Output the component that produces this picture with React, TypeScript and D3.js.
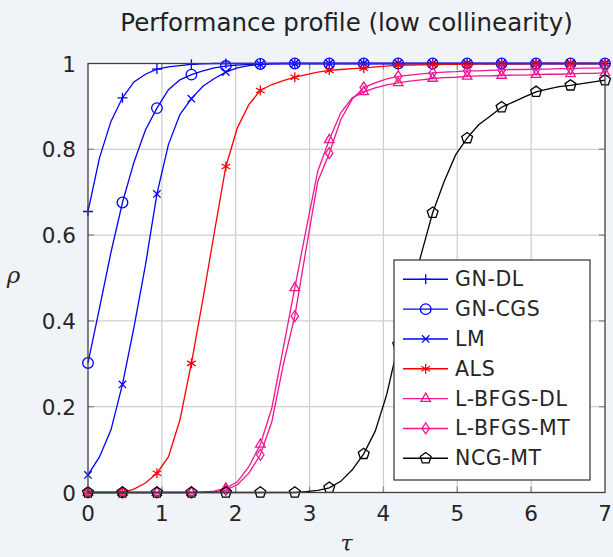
import React from "react";
import * as d3 from "d3";

// Sampling grid (46 samples across tau in [0, 7]); markers every 3rd sample
const TAU_MAX = 7;
const N_SAMPLES = 46;
const tau = d3.range(N_SAMPLES).map((i) => (i * TAU_MAX) / (N_SAMPLES - 1));

const xTicks = [0, 1, 2, 3, 4, 5, 6, 7];
const yTicks = [0, 0.2, 0.4, 0.6, 0.8, 1];
const yTickLabels = ["0", "0.2", "0.4", "0.6", "0.8", "1"];

const seriesNames = ["GN-DL", "GN-CGS", "LM", "ALS", "L-BFGS-DL", "L-BFGS-MT", "NCG-MT"];

const gnDL = [0.655, 0.78, 0.865, 0.92, 0.957, 0.975, 0.987, 0.992, 0.995, 0.998, 0.999,
  1, 1, 1, 1, 1, 1, 1, 1, 1, 1, 1, 1, 1, 1, 1, 1, 1, 1, 1, 1, 1, 1, 1, 1, 1, 1, 1, 1, 1, 1, 1, 1, 1, 1, 1];
const gnCGS = [0.302, 0.43, 0.56, 0.676, 0.77, 0.845, 0.896, 0.939, 0.962, 0.974, 0.983, 0.99, 0.994, 0.996, 0.998, 0.999,
  1, 1, 1, 1, 1, 1, 1, 1, 1, 1, 1, 1, 1, 1, 1, 1, 1, 1, 1, 1, 1, 1, 1, 1, 1, 1, 1, 1, 1, 1];
const lm = [0.041, 0.083, 0.146, 0.252, 0.385, 0.53, 0.696, 0.811, 0.881, 0.918, 0.947, 0.965, 0.98, 0.99, 0.995, 0.998, 0.999,
  1, 1, 1, 1, 1, 1, 1, 1, 1, 1, 1, 1, 1, 1, 1, 1, 1, 1, 1, 1, 1, 1, 1, 1, 1, 1, 1, 1, 1];
const als = [0, 0, 0, 0, 0.008, 0.022, 0.045, 0.083, 0.169, 0.301, 0.45, 0.607, 0.76, 0.85, 0.904, 0.937, 0.951, 0.96,
  0.968, 0.974, 0.98, 0.984, 0.986, 0.988, 0.989, 0.992, 0.994, 0.996, 0.996, 0.997, 0.997, 0.998, 0.998, 0.998,
  0.999, 0.999, 0.999, 0.999, 0.999, 1, 1, 1, 1, 1, 1, 1];
const lbfgsDL = [0, 0, 0, 0, 0, 0, 0, 0, 0, 0, 0.001, 0.003, 0.01, 0.025, 0.06, 0.112, 0.197, 0.337, 0.477, 0.615,
  0.749, 0.822, 0.885, 0.92, 0.934, 0.943, 0.95, 0.955, 0.959, 0.962, 0.965, 0.967, 0.968, 0.97, 0.971, 0.971, 0.972,
  0.973, 0.973, 0.974, 0.975, 0.975, 0.976, 0.977, 0.977, 0.978];
const lbfgsMT = [0, 0, 0, 0, 0, 0, 0, 0, 0, 0, 0.001, 0.002, 0.006, 0.018, 0.045, 0.088, 0.165, 0.298, 0.411, 0.57,
  0.725, 0.791, 0.869, 0.917, 0.944, 0.955, 0.964, 0.97, 0.973, 0.976, 0.978, 0.98, 0.981, 0.983, 0.983, 0.984, 0.985,
  0.986, 0.986, 0.987, 0.987, 0.988, 0.988, 0.989, 0.989, 0.99];
const ncgMT = [0, 0, 0, 0, 0, 0, 0, 0, 0, 0, 0, 0, 0, 0, 0, 0, 0, 0, 0, 0.002, 0.005, 0.011, 0.026, 0.053, 0.09, 0.143,
  0.228, 0.345, 0.455, 0.555, 0.652, 0.725, 0.787, 0.826, 0.857, 0.877, 0.898, 0.91, 0.922, 0.934, 0.94, 0.946, 0.949,
  0.953, 0.957, 0.961];

const seriesValues = [gnDL, gnCGS, lm, als, lbfgsDL, lbfgsMT, ncgMT];
const seriesColors = ["#0000ff", "#0000ff", "#0000ff", "#ff0000", "#f0168e", "#f0168e", "#000000"];
const seriesMarkers = ["plus", "circle", "cross", "asterisk", "triangle", "diamond", "pentagon"];

const W = 613;
const H = 557;
const FONT = "'DejaVu Sans', sans-serif";

function Marker({ type, x, y, color }: { type: string; x: number; y: number; color: string }) {
  const sw = 1.3;
  const common = { stroke: color, strokeWidth: sw, fill: "none" };
  if (type === "plus") {
    const r = 5;
    return <path d={`M${x - r},${y}H${x + r}M${x},${y - r}V${y + r}`} {...common} />;
  }
  if (type === "cross") {
    const r = 3.7;
    return <path d={`M${x - r},${y - r}L${x + r},${y + r}M${x - r},${y + r}L${x + r},${y - r}`} {...common} />;
  }
  if (type === "circle") {
    return <circle cx={x} cy={y} r={5.3} {...common} />;
  }
  if (type === "asterisk") {
    const r = 5;
    const parts = [90, 30, -30].map((a) => {
      const rad = (a * Math.PI) / 180;
      const dx = r * Math.cos(rad);
      const dy = r * Math.sin(rad);
      return `M${x - dx},${y + dy}L${x + dx},${y - dy}`;
    });
    return <path d={parts.join("")} {...common} />;
  }
  if (type === "triangle") {
    const r = 5.5;
    const pts = [90, 210, 330].map((a) => {
      const rad = (a * Math.PI) / 180;
      return `${x + r * Math.cos(rad)},${y - r * Math.sin(rad)}`;
    });
    return <polygon points={pts.join(" ")} {...common} />;
  }
  if (type === "diamond") {
    const rx = 3.7;
    const ry = 5.5;
    return <polygon points={`${x},${y - ry} ${x + rx},${y} ${x},${y + ry} ${x - rx},${y}`} {...common} />;
  }
  if (type === "pentagon") {
    const r = 5.7;
    const pts = [90, 162, 234, 306, 18].map((a) => {
      const rad = (a * Math.PI) / 180;
      return `${x + r * Math.cos(rad)},${y - r * Math.sin(rad)}`;
    });
    return <polygon points={pts.join(" ")} {...common} />;
  }
  return null;
}

export default function App() {
  const xs = d3.scaleLinear().domain([0, TAU_MAX]).range([88, 605]);
  const ys = d3.scaleLinear().domain([0, 1]).range([492.5, 63.5]);
  const [x0, x1] = xs.range();
  const [y0, y1] = ys.range();

  const line = d3
    .line<number>()
    .x((_, i) => xs(tau[i]))
    .y((d) => ys(d));

  const legendX = 394;
  const legendY = 260;
  const legendW = 196;
  const legendH = 220;
  const rowH = 29.83;
  const firstRow = 279.3;

  return (
    <div style={{ position: "absolute", left: 0, top: 0, width: W, height: H }}>
      <svg width={W} height={H} style={{ display: "block" }}>
        <rect x={0} y={0} width={W} height={H} fill="#f0f3f8" />
        <text x={(x0 + x1) / 2} y={31} textAnchor="middle" fontFamily={FONT} fontSize={24.5} fill="#222">
          Performance profile (low collinearity)
        </text>
        <rect x={x0} y={y1} width={x1 - x0} height={y0 - y1} fill="#ffffff" />
        {/* grid */}
        {xTicks.slice(1, -1).map((t) => (
          <line key={"gx" + t} x1={xs(t)} x2={xs(t)} y1={y1} y2={y0} stroke="#cfcfcf" strokeWidth={1.3} />
        ))}
        {yTicks.slice(1, -1).map((t) => (
          <line key={"gy" + t} x1={x0} x2={x1} y1={ys(t)} y2={ys(t)} stroke="#cfcfcf" strokeWidth={1.3} />
        ))}
        {/* inner ticks */}
        {xTicks.slice(1, -1).map((t) => (
          <g key={"tx" + t} stroke="#8a8a8a" strokeWidth={1.3}>
            <line x1={xs(t)} x2={xs(t)} y1={y0} y2={y0 - 6} />
            <line x1={xs(t)} x2={xs(t)} y1={y1} y2={y1 + 6} />
          </g>
        ))}
        {yTicks.slice(1, -1).map((t) => (
          <g key={"ty" + t} stroke="#8a8a8a" strokeWidth={1.3}>
            <line x1={x0} x2={x0 + 6} y1={ys(t)} y2={ys(t)} />
            <line x1={x1} x2={x1 - 6} y1={ys(t)} y2={ys(t)} />
          </g>
        ))}
        {/* series */}
        {seriesValues.map((vals, s) => (
          <g key={"s" + s}>
            <path d={line(vals) || ""} fill="none" stroke={seriesColors[s]} strokeWidth={1.3} />
            {vals.map((v, i) =>
              i % 3 === 0 ? (
                <Marker key={i} type={seriesMarkers[s]} x={xs(tau[i])} y={ys(v)} color={seriesColors[s]} />
              ) : null
            )}
          </g>
        ))}
        {/* frame */}
        <rect x={x0} y={y1} width={x1 - x0} height={y0 - y1} fill="none" stroke="#404040" strokeWidth={1.3} />
        {/* tick labels */}
        {xTicks.map((t) => (
          <text key={"lx" + t} x={xs(t)} y={521} textAnchor="middle" fontFamily={FONT} fontSize={21.5} fill="#262626">
            {t}
          </text>
        ))}
        {yTicks.map((t, i) => (
          <text key={"ly" + t} x={76} y={ys(t) + 8} textAnchor="end" fontFamily={FONT} fontSize={21.5} fill="#262626">
            {yTickLabels[i]}
          </text>
        ))}
        {/* axis labels */}
        <text x={(x0 + x1) / 2} y={551} textAnchor="middle" fontFamily="'DejaVu Serif', serif" fontStyle="italic" fontSize={22} fill="#262626">
          τ
        </text>
        <text x={13.5} y={283} textAnchor="middle" fontFamily="'DejaVu Serif', serif" fontStyle="italic" fontSize={23} fill="#262626">
          ρ
        </text>
        {/* legend */}
        <rect x={legendX} y={legendY} width={legendW} height={legendH} fill="#ffffff" stroke="#404040" strokeWidth={1.3} />
        {seriesNames.map((name, s) => {
          const ry = firstRow + s * rowH;
          return (
            <g key={"lg" + s}>
              <line x1={403} x2={448} y1={ry} y2={ry} stroke={seriesColors[s]} strokeWidth={1.4} />
              <Marker type={seriesMarkers[s]} x={425.7} y={ry} color={seriesColors[s]} />
              <text x={455} y={ry + 7} fontFamily={FONT} fontSize={20.5} letterSpacing={0.6} fill="#262626">
                {name}
              </text>
            </g>
          );
        })}
      </svg>
    </div>
  );
}
